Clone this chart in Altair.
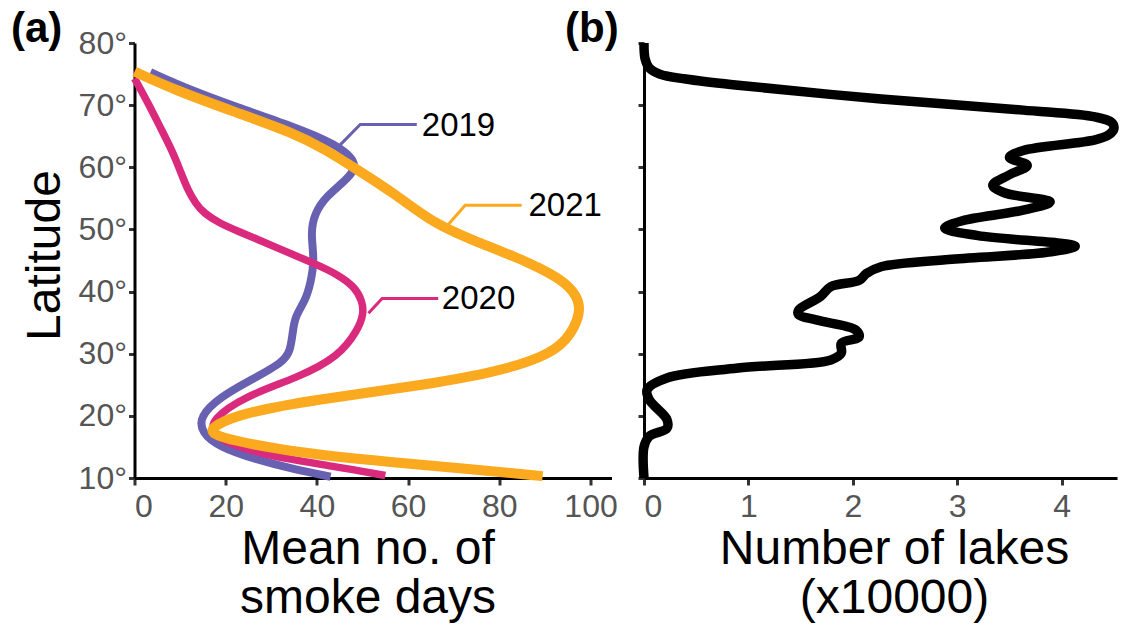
import altair as alt
import pandas as pd

# ---------------- Panel (a): mean number of smoke days vs latitude ----------------
lat_2019 = [75.3, 72.5, 69.8, 66.5, 63.9, 60.6, 57.9, 55.3, 52.6, 49.4, 45.1, 41.3, 38.6, 36.0, 33.5,
            30.5, 28.6, 25.8, 23.0, 19.9, 17.3, 15.0, 13.0, 11.4, 10.2]
val_2019 = [3.5, 12, 22, 35, 43.8, 49.5, 46.4, 42, 39.5, 38.6, 39.5, 38.6, 37.5, 35.2, 34.7,
            34.2, 32.6, 25.6, 18.7, 14.3, 14.7, 18.6, 26.5, 35, 43]

lat_2020 = [74.3, 70.3, 66.5, 62.75, 59.5, 56.3, 54.2, 52.6, 51.0, 49.9, 47.2, 44.5, 42.7, 40.8, 38.6,
            36.5, 33.8, 29.5, 26.2, 23.1, 19.3, 17.7, 16.1, 13.5, 11.9, 10.4]
val_2020 = [0, 3.0, 5.6, 8.2, 10.0, 11.7, 13.4, 15.2, 18.7, 22.1, 30.8, 39.5, 44.7, 48.2, 49.9,
            50.3, 49, 44.7, 36, 23.9, 16.9, 17.2, 18.6, 29, 43.8, 55]

lat_2021 = [75.4, 72.4, 68.9, 65.5, 62.8, 60.0, 55.8, 51.0, 48.3, 44.6, 41.4, 38.5, 36.0, 32.2, 29.5, 26.9,
            24.7, 22.6, 20.5, 18.5, 17.3, 16.2, 14.1, 12.5, 11.4, 10.3]
val_2021 = [0, 9, 22, 35, 42, 48, 57, 65.5, 74, 87, 95, 97.6, 97.6, 95, 90, 78.6,
            61, 39.5, 24, 17.5, 16.5, 20.4, 35, 57, 74, 89.5]

series_names = ["2019", "2020", "2021"]
series_colors = ["#6860b0", "#da2a7e", "#fba91e"]
series_widths = [8, 7.5, 10]

# leader lines (value, latitude) and label anchors
leader_val = {"2019": [45.1, 49.5, 61.9], "2020": [51.3, 54.3, 66.6], "2021": [68.1, 72.5, 84.9]}
leader_lat = {"2019": [63.6, 66.9, 66.9], "2020": [36.5, 38.9, 38.9], "2021": [50.2, 53.9, 53.9]}
label_val = [63.0, 67.4, 86.4]
label_lat = [66.7, 38.8, 53.7]

# ---------------- Panel (b): number of lakes vs latitude ----------------
lat_lakes = [80.0, 77.5, 76.0, 75.0, 74.2, 73.2, 71.0, 69.2, 68.1, 67.2, 66.2, 65.2, 64.4, 62.7, 61.6,
             60.3, 58.8, 57.1, 55.9, 54.4, 53.0, 51.4, 50.2, 49.0, 47.3, 46.4, 45.2, 44.0, 42.9, 41.8,
             40.8, 39.2, 37.0, 36.3, 35.4, 33.8, 32.7, 31.7, 30.1, 29.0, 27.7, 26.1, 24.2, 22.6, 19.4,
             18.0, 16.7, 15.0, 10.0]
val_lakes = [0, 0.01, 0.05, 0.15, 0.4, 0.9, 2.27, 3.63, 4.32, 4.48, 4.5, 4.45, 4.32, 3.63, 3.5,
             3.67, 3.5, 3.34, 3.45, 3.89, 3.6, 3.05, 2.88, 3.2, 4.13, 3.9, 2.95, 2.27, 2.13, 2.06,
             1.79, 1.69, 1.48, 1.48, 1.66, 2.03, 2.06, 1.89, 1.89, 1.79, 0.9, 0.22, 0.03, 0.05, 0.22,
             0.22, 0.05, 0, 0]

lat_ticks = [10, 20, 30, 40, 50, 60, 70, 80]
smoke_ticks = [0, 20, 40, 60, 80, 100]
lake_ticks = [0, 1, 2, 3, 4]

FONT = "Liberation Sans"

curves = {"2019": (lat_2019, val_2019), "2020": (lat_2020, val_2020), "2021": (lat_2021, val_2021)}

W_A, W_B, H = 477, 473, 435
PAD_L, PAD_T = 126.5, 35
SVG_W, SVG_H = 1111, 614

y_a = alt.Y("lat:Q", scale=alt.Scale(domain=[10, 80], nice=False, zero=False),
            axis=alt.Axis(values=lat_ticks, labelExpr="datum.value + '°'", title="Latitude",
                          titleBaseline="alphabetic", titleX=-75.5, titleY=212, titleAlign="center",
                          titleAngle=270))
x_a = alt.X("val:Q", scale=alt.Scale(domain=[0, 104.6], nice=False, zero=False),
            axis=alt.Axis(values=smoke_ticks, title=["Mean no. of", "smoke days"],
                          titleBaseline="alphabetic", titleY=85, titleX=233, titleAlign="center",
                          titleLineHeight=49))

layers_a = []
for name, color, sw in zip(series_names, series_colors, series_widths):
    lats, vals = curves[name]
    df = pd.DataFrame({"lat": lats, "val": vals, "order": list(range(len(lats)))})
    layers_a.append(
        alt.Chart(df).mark_line(color=color, strokeWidth=sw, interpolate="basis", strokeCap="butt")
        .encode(x=x_a, y=y_a, order="order:Q")
    )

for name, color in zip(series_names, series_colors):
    df = pd.DataFrame({"lat": leader_lat[name], "val": leader_val[name], "order": [0, 1, 2]})
    layers_a.append(
        alt.Chart(df).mark_line(color=color, strokeWidth=3)
        .encode(x=x_a, y=y_a, order="order:Q")
    )

labels_df = pd.DataFrame({"val": label_val, "lat": label_lat, "label": series_names})
layers_a.append(
    alt.Chart(labels_df).mark_text(align="left", baseline="middle", font=FONT, fontSize=33, color="black")
    .encode(x=x_a, y=y_a, text="label:N")
)

panel_df = pd.DataFrame({"label": ["(a)", "(b)"], "px": [-123.5, 430.5]})
layers_a.append(
    alt.Chart(panel_df).mark_text(align="left", baseline="top", font=FONT, fontSize=42,
                                  fontWeight="bold", color="black")
    .encode(x=alt.X("px:Q", scale=None), y=alt.value(-34), text="label:N")
)

panel_a = alt.layer(*layers_a).properties(width=W_A, height=H)

lakes_df = pd.DataFrame({"lat": lat_lakes, "val": val_lakes, "order": list(range(len(lat_lakes)))})
panel_b = alt.Chart(lakes_df).mark_line(color="black", strokeWidth=9.5, interpolate="catmull-rom",
                                        strokeCap="butt").encode(
    x=alt.X("val:Q", scale=alt.Scale(domain=[0, 4.53], nice=False, zero=False),
            axis=alt.Axis(values=lake_ticks, title=["Number of lakes", "(x10000)"],
                          titleBaseline="alphabetic", titleY=85, titleX=250, titleAlign="center",
                          titleLineHeight=49)),
    y=alt.Y("lat:Q", scale=alt.Scale(domain=[10, 80], nice=False, zero=False),
            axis=alt.Axis(values=lat_ticks, labels=False, title=None)),
    order="order:Q",
).properties(width=W_B, height=H)

chart = alt.hconcat(panel_a, panel_b, spacing=32.5, bounds="flush").properties(
    autosize=alt.AutoSizeParams(type="none"),
    padding={"left": PAD_L, "top": PAD_T, "right": SVG_W - PAD_L, "bottom": SVG_H - PAD_T},
).configure_view(stroke=None).configure_axis(
    grid=False, domainColor="black", domainWidth=3, tickColor="#333333", tickWidth=3, tickSize=6,
    labelFont=FONT, labelFontSize=32, labelColor="#555555", labelPadding=2,
    titleFont=FONT, titleFontSize=48, titleColor="black", titleFontWeight="normal",
).configure_axisX(labelPadding=6, tickSize=7)

chart.save("out.html", embed_options={"renderer": "svg", "actions": False})
